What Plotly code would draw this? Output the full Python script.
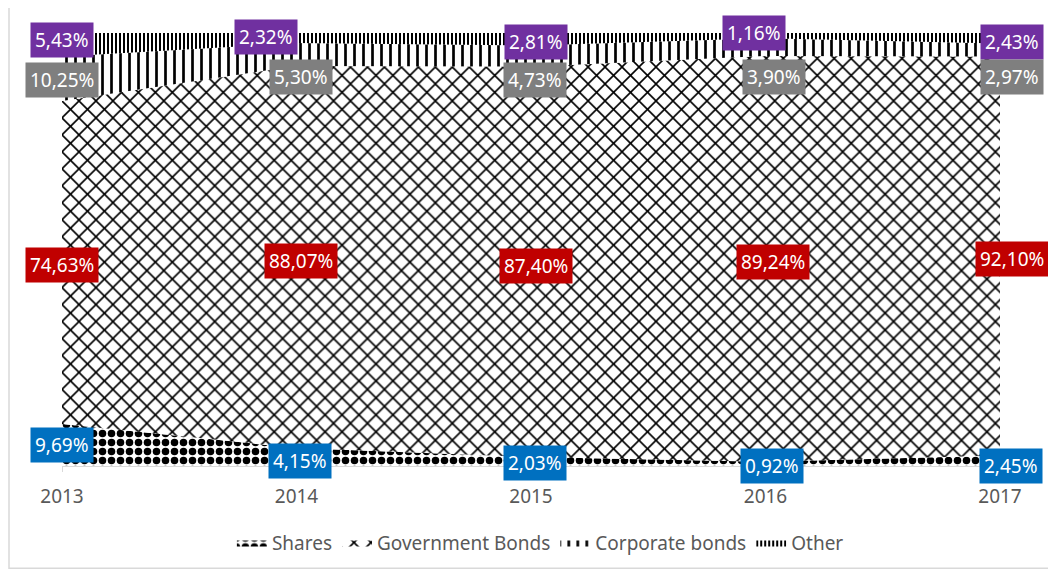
import plotly.graph_objects as go

years = [2013, 2014, 2015, 2016, 2017]
shares = [9.69, 4.15, 2.03, 0.92, 2.45]
gov_bonds = [74.63, 88.07, 87.40, 89.24, 92.10]
corp_bonds = [10.25, 5.30, 4.73, 3.90, 2.97]
other = [5.43, 2.32, 2.81, 1.16, 2.43]

series_names = ["Shares", "Government Bonds", "Corporate bonds", "Other"]

# label placement (axis units) and horizontal nudges (px)
lab_y_other = [98.4, 99.1, 97.9, 100.0, 97.9]
lab_y_corp = [89.2, 89.9, 89.2, 89.9, 89.9]
lab_y_gov = [46.4, 47.4, 46.2, 47.1, 47.8]
lab_y_shares = [4.8, 1.1, 0.7, 0.0, 0.0]
xs_other = [0, -31, 5, -12, 12]
xs_corp = [0, 4, 4, 8, 12]
xs_gov = [0, 4, 5, 7, 12]
xs_shares = [0, 3, 4, 6, 11]

fig = go.Figure()

styles = [
    dict(shape=".", size=9, solidity=0.55, fgcolor="black", bgcolor="white"),
    dict(shape="x", size=12, solidity=0.25, fgcolor="black", bgcolor="white"),
    dict(shape="|", size=9, solidity=0.3, fgcolor="black", bgcolor="white"),
    dict(shape="|", size=4, solidity=0.5, fgcolor="black", bgcolor="white"),
]
for name, vals, st in zip(series_names, [shares, gov_bonds, corp_bonds, other], styles):
    fig.add_trace(go.Scatter(
        x=years, y=vals, name=name, mode="lines", stackgroup="one", groupnorm="percent",
        line=dict(width=0, color="black"), fillcolor="white",
        fillpattern=dict(fillmode="replace", **st),
        hoverinfo="skip",
    ))

def fmt(v):
    return f"{v:.2f}%".replace(".", ",")

groups = [
    (other, lab_y_other, xs_other, "#7030A0"),
    (corp_bonds, lab_y_corp, xs_corp, "#7F7F7F"),
    (gov_bonds, lab_y_gov, xs_gov, "#C00000"),
    (shares, lab_y_shares, xs_shares, "#0070C0"),
]
for vals, ys, xsh, col in groups:
    for yr, v, yy, sh in zip(years, vals, ys, xsh):
        fig.add_annotation(
            x=yr, y=yy, xref="x", yref="y", text=fmt(v), showarrow=False,
            xshift=sh, bgcolor=col, borderpad=4,
            font=dict(family="Noto Sans", size=19, color="white"),
        )

# outer chart frame
fig.add_shape(type="rect", xref="paper", yref="paper",
              x0=-0.0565, x1=1.0533, y0=-0.236, y1=1.0598,
              line=dict(color="#D9D9D9", width=1.5), fillcolor="rgba(0,0,0,0)", layer="below")

fig.update_layout(
    width=1048, height=566,
    margin=dict(l=54, r=56, t=25, b=106),
    paper_bgcolor="white", plot_bgcolor="white",
    showlegend=True,
    legend=dict(orientation="h", x=0.51, xanchor="center", y=-0.177, yanchor="middle",
                font=dict(family="Noto Sans", size=19, color="#595959"),
                itemwidth=30, traceorder="normal"),
    xaxis=dict(range=[2013, 2017], tickvals=years, ticktext=[str(y) for y in years],
               showgrid=False, zeroline=False, showline=True, linecolor="#D9D9D9",
               ticks="outside", ticklen=5, tickcolor="#D9D9D9", ticklabelstandoff=8,
               tickfont=dict(family="Noto Sans", size=19, color="#595959")),
    yaxis=dict(range=[0, 100], visible=False),
)

fig.write_html("out.html")
